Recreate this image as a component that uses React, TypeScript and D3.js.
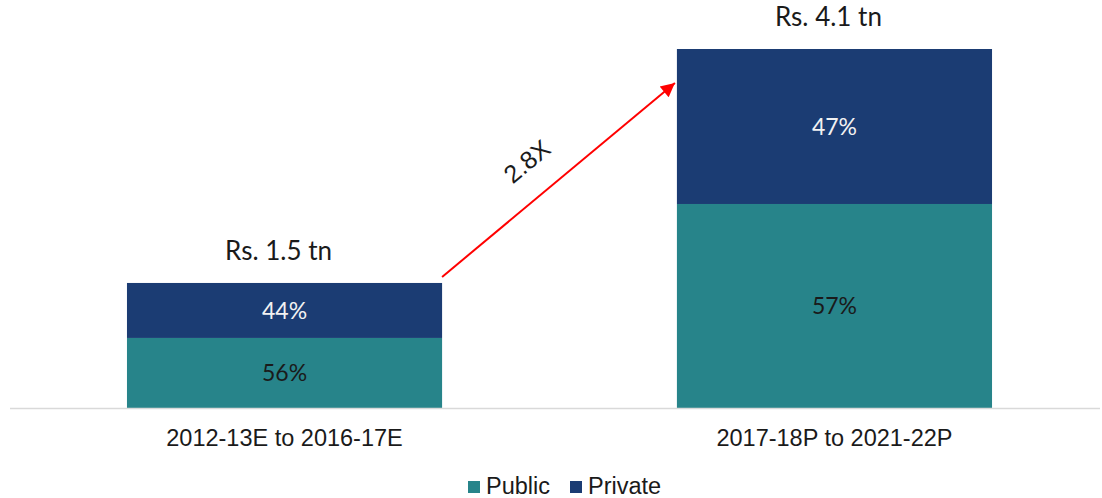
import React from "react";
import * as d3 from "d3";

const categories = ["2012-13E to 2016-17E", "2017-18P to 2021-22P"];
const publicValues = [0.8, 2.33];
const privateValues = [0.628, 1.77];
const publicLabels = ["56%", "57%"];
const privateLabels = ["44%", "47%"];
const totalLabels = ["Rs. 1.5 tn", "Rs. 4.1 tn"];
const growthLabel = "2.8X";
const seriesNames = ["Public", "Private"];

const W = 1102;
const H = 498;
const COLORS = { Public: "#27848A", Private: "#1B3C73" };

export default function App() {
  const x = d3
    .scaleBand<string>()
    .domain(categories)
    .range([9.5, 1109.5])
    .paddingInner(0.427)
    .paddingOuter(0.2136);
  const yMax = publicValues[1] + privateValues[1];
  const y = d3.scaleLinear().domain([0, yMax]).range([408, 49]);
  const bw = x.bandwidth();

  const rows = categories.map((c, i) => ({
    cat: c,
    Public: publicValues[i],
    Private: privateValues[i],
  }));
  const stacked = d3.stack<any>().keys(seriesNames)(rows);

  const t0 = publicValues[0] + privateValues[0];
  const t1 = publicValues[1] + privateValues[1];
  const ax1 = (x(categories[0]) as number) + bw;
  const ay1 = y(t0) - 6;
  const ax2 = (x(categories[1]) as number) - 2;
  const ay2 = y(t1) + 34;
  const ang = (Math.atan2(ay2 - ay1, ax2 - ax1) * 180) / Math.PI;
  const mx = (ax1 + ax2) / 2;
  const my = (ay1 + ay2) / 2;
  const lx = mx - 26;
  const ly = my - 12;

  return (
    <svg
      width={W}
      height={H}
      style={{ position: "absolute", left: 0, top: 0, background: "#fff" }}
    >
      <defs>
        <marker
          id="ah"
          viewBox="0 0 10 10"
          refX="10"
          refY="5"
          markerWidth="16"
          markerHeight="14"
          orient="auto"
          markerUnits="userSpaceOnUse"
        >
          <path d="M0,0 L10,5 L0,10 z" fill="#FF0000" />
        </marker>
      </defs>

      {stacked.map((s) =>
        s.map((d, i) => (
          <rect
            key={s.key + i}
            x={x(categories[i])}
            y={y(d[1])}
            width={bw}
            height={y(d[0]) - y(d[1])}
            fill={(COLORS as any)[s.key]}
          />
        ))
      )}

      <line x1={10} x2={1100} y1={408.5} y2={408.5} stroke="#d9d9d9" strokeWidth={1.5} />

      {stacked[0].map((d, i) => (
        <text
          key={"pl" + i}
          x={(x(categories[i]) as number) + bw / 2}
          y={(y(d[0]) + y(d[1])) / 2}
          dy="0.35em"
          textAnchor="middle"
          fontFamily="Lato, 'Open Sans', sans-serif"
          fontSize={23}
          fill="#1a1a1a"
        >
          {publicLabels[i]}
        </text>
      ))}
      {stacked[1].map((d, i) => (
        <text
          key={"vl" + i}
          x={(x(categories[i]) as number) + bw / 2}
          y={(y(d[0]) + y(d[1])) / 2}
          dy="0.35em"
          textAnchor="middle"
          fontFamily="Lato, 'Open Sans', sans-serif"
          fontSize={23}
          fill="#f2f2f2"
        >
          {privateLabels[i]}
        </text>
      ))}
      {categories.map((c, i) => (
        <text
          key={"tl" + i}
          x={(x(c) as number) + bw / 2 - 6}
          y={y(publicValues[i] + privateValues[i]) - 23}
          textAnchor="middle"
          fontFamily="Lato, 'Open Sans', sans-serif"
          fontSize={26}
          fill="#1a1a1a"
        >
          {totalLabels[i]}
        </text>
      ))}
      {categories.map((c, i) => (
        <text
          key={"xl" + i}
          x={(x(c) as number) + bw / 2}
          y={446}
          textAnchor="middle"
          fontFamily="'Liberation Sans', Arial, sans-serif"
          fontSize={23.5}
          fill="#1a1a1a"
        >
          {c}
        </text>
      ))}

      <line
        x1={ax1}
        y1={ay1}
        x2={ax2}
        y2={ay2}
        stroke="#FF0000"
        strokeWidth={2}
        markerEnd="url(#ah)"
      />
      <text
        x={lx}
        y={ly}
        transform={`rotate(${ang}, ${lx}, ${ly})`}
        textAnchor="middle"
        fontFamily="'Liberation Sans', Arial, sans-serif"
        fontSize={25}
        fill="#1a1a1a"
      >
        {growthLabel}
      </text>

      {seriesNames.map((n, i) => {
        const baseX = i === 0 ? 468 : 570;
        return (
          <g key={n}>
            <rect x={baseX} y={481} width={12} height={12} fill={(COLORS as any)[n]} />
            <text
              x={baseX + 18}
              y={494}
              fontFamily="'Liberation Sans', Arial, sans-serif"
              fontSize={23.5}
              fill="#1a1a1a"
            >
              {n}
            </text>
          </g>
        );
      })}
    </svg>
  );
}
